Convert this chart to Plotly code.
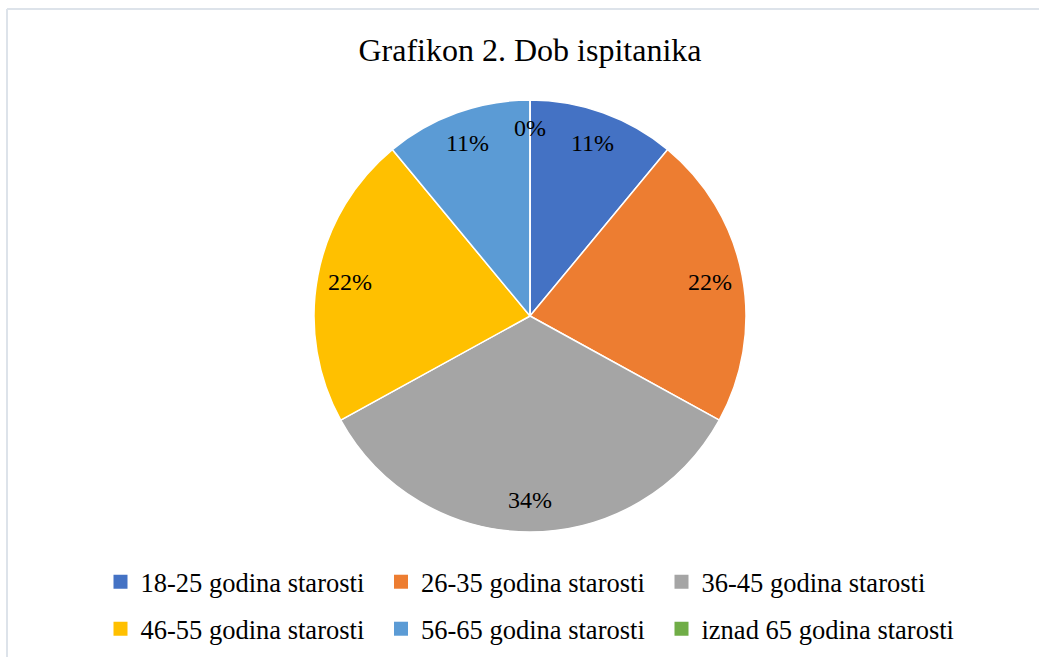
import math
import plotly.graph_objects as go

categories = ["18-25 godina starosti", "26-35 godina starosti", "36-45 godina starosti",
              "46-55 godina starosti", "56-65 godina starosti", "iznad 65 godina starosti"]
values = [11, 22, 34, 22, 11, 0]
colors = ["#4472C4", "#ED7D31", "#A5A5A5", "#FFC000", "#5B9BD5", "#70AD47"]
title_text = "Grafikon 2. Dob ispitanika"

W, H = 1039, 657


def px_x(sx):
    return sx / W


def px_y(sy):
    return 1 - sy / H


SCX, SCY, R = 530, 316, 216   # pie centre / radius in pixels
dom_x = [px_x(SCX - R), px_x(SCX + R)]
dom_y = [px_y(SCY + R), px_y(SCY - R)]

FONT = "Liberation Serif"

fig = go.Figure()
fig.add_trace(go.Pie(
    labels=categories,
    values=values,
    sort=False,
    direction="clockwise",
    rotation=0,
    marker=dict(colors=colors, line=dict(color="white", width=1.5)),
    textinfo="none",
    domain=dict(x=dom_x, y=dom_y),
    hoverinfo="label+percent",
    showlegend=False,
))

# percentage labels placed along each slice bisector
total = sum(values)
cum = 0
for cat, v in zip(categories, values):
    mid = (cum + v / 2) / total * 2 * math.pi
    rr = (0.87 if v == 0 else 0.85) * R
    sx = SCX + rr * math.sin(mid)
    sy = SCY - rr * math.cos(mid)
    fig.add_annotation(x=px_x(sx), y=px_y(sy), xref="paper", yref="paper",
                       xanchor="center", yanchor="middle",
                       text=f"{round(100 * v / total)}%", showarrow=False,
                       font=dict(family=FONT, size=24, color="black"))
    cum += v

# legend: two rows of three, one legend box per entry
col_x = [100.5, 381, 661.5]
row_y = [582, 629]
layout_legends = {}
for i, (cat, col) in enumerate(zip(categories, colors)):
    key = "legend" if i == 0 else f"legend{i + 1}"
    fig.add_trace(go.Scatter(
        x=[None], y=[None], mode="markers", name=cat,
        marker=dict(symbol="square", size=14, color=col),
        legend=key, hoverinfo="skip",
    ))
    layout_legends[key] = dict(
        orientation="h", x=px_x(col_x[i % 3]), xanchor="left",
        y=px_y(row_y[i // 3]), yanchor="middle",
        font=dict(family=FONT, size=26.5, color="black"),
        itemclick=False, itemdoubleclick=False, bgcolor="rgba(0,0,0,0)",
    )

# outer chart frame: only the top and left edges are inside the view
frame = dict(color="#DDE3EA", width=2)
fig.add_shape(type="line", xref="paper", yref="paper",
              x0=px_x(7), x1=1.0, y0=px_y(9), y1=px_y(9), line=frame)
fig.add_shape(type="line", xref="paper", yref="paper",
              x0=px_x(7), x1=px_x(7), y0=0.0, y1=px_y(9), line=frame)

fig.update_layout(
    width=W, height=H,
    margin=dict(l=0, r=0, t=0, b=0),
    paper_bgcolor="white", plot_bgcolor="white",
    xaxis=dict(visible=False), yaxis=dict(visible=False),
    title=dict(text=title_text, x=px_x(SCX), xanchor="center", xref="paper",
               y=px_y(50), yanchor="middle", yref="container",
               font=dict(family=FONT, size=32, color="black")),
    showlegend=True,
    **layout_legends,
)

fig.write_html("out.html",
               config={"displayModeBar": False},
               post_script="document.body.style.margin='0';"
                           "document.body.style.overflow='hidden';")
